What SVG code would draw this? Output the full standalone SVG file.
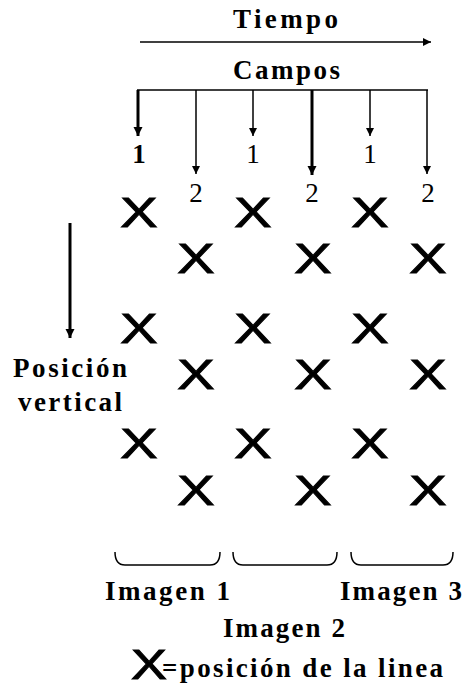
<svg xmlns="http://www.w3.org/2000/svg" width="466" height="688" viewBox="0 0 466 688">
  <defs>
    <marker id="head" viewBox="0 0 10 10" refX="10" refY="5" markerWidth="8" markerHeight="8" markerUnits="userSpaceOnUse" orient="auto">
      <path d="M0,0 L10,5 L0,10 Z" fill="#000"/>
    </marker>
    <marker id="headBig" viewBox="0 0 10 10" refX="10" refY="5" markerWidth="9" markerHeight="10" markerUnits="userSpaceOnUse" orient="auto">
      <path d="M0,0 L10,5 L0,10 Z" fill="#000"/>
    </marker>
  </defs>
  <style>
    .lbl { font-family: "Liberation Serif", "Times New Roman", serif; font-weight: bold; fill: #000; }
    .num { font-family: "Liberation Serif", "Times New Roman", serif; font-size: 27px; fill: #000; text-anchor: middle; }
    .x { font-family: "Liberation Sans", Arial, sans-serif; font-size: 43px; fill: #000; stroke: #000; stroke-width: 1; text-anchor: middle; }
    .thin { stroke: #000; stroke-width: 1.5; fill: none; }
    .thick { stroke: #000; stroke-width: 3; fill: none; }
    .brace { stroke: #000; stroke-width: 1.5; fill: none; }
  </style>

  <rect width="466" height="688" fill="#fff"/>

  <!-- headings -->
  <g id="tiempo">
    <text class="lbl" x="233" y="28" font-size="27" textLength="105" lengthAdjust="spacing">Tiempo</text>
  </g>
  <g id="campos">
    <text class="lbl" x="233" y="79" font-size="27" textLength="107" lengthAdjust="spacing">Campos</text>
  </g>

  <!-- connectors: time axis, field rake, vertical axis -->
  <g id="connectors">
    <line class="thin" x1="140" y1="42" x2="431" y2="42" marker-end="url(#head)"/>
    <line class="thin" x1="137" y1="90" x2="428" y2="90"/>
    <line class="thick" x1="138" y1="90" x2="138" y2="136" marker-end="url(#headBig)"/>
    <line class="thin" x1="196" y1="90" x2="196" y2="174" marker-end="url(#head)"/>
    <line class="thin" x1="253" y1="90" x2="253" y2="136" marker-end="url(#head)"/>
    <line class="thick" x1="312" y1="90" x2="312" y2="175" marker-end="url(#headBig)"/>
    <line class="thin" x1="370" y1="90" x2="370" y2="136" marker-end="url(#head)"/>
    <line class="thin" x1="427" y1="90" x2="427" y2="174" marker-end="url(#head)"/>
    <line class="thick" x1="70" y1="223" x2="70" y2="338" marker-end="url(#headBig)"/>
  </g>

  <!-- field numbers -->
  <g id="field-numbers">
    <text class="num" x="139" y="163" font-weight="bold">1</text>
    <text class="num" x="253" y="163">1</text>
    <text class="num" x="370" y="163">1</text>
    <text class="num" x="196" y="202">2</text>
    <text class="num" x="312" y="202">2</text>
    <text class="num" x="428" y="202">2</text>
  </g>

  <!-- line positions: field 1 columns -->
  <g id="field1-lines">
    <text class="x" transform="translate(139,227) scale(1.3,1)">X</text>
    <text class="x" transform="translate(253,227) scale(1.3,1)">X</text>
    <text class="x" transform="translate(370,227) scale(1.3,1)">X</text>
    <text class="x" transform="translate(139,343) scale(1.3,1)">X</text>
    <text class="x" transform="translate(253,343) scale(1.3,1)">X</text>
    <text class="x" transform="translate(370,343) scale(1.3,1)">X</text>
    <text class="x" transform="translate(139,458) scale(1.3,1)">X</text>
    <text class="x" transform="translate(253,458) scale(1.3,1)">X</text>
    <text class="x" transform="translate(370,458) scale(1.3,1)">X</text>
  </g>

  <!-- line positions: field 2 columns -->
  <g id="field2-lines">
    <text class="x" transform="translate(196,273) scale(1.3,1)">X</text>
    <text class="x" transform="translate(313,273) scale(1.3,1)">X</text>
    <text class="x" transform="translate(428,273) scale(1.3,1)">X</text>
    <text class="x" transform="translate(196,389) scale(1.3,1)">X</text>
    <text class="x" transform="translate(313,389) scale(1.3,1)">X</text>
    <text class="x" transform="translate(428,389) scale(1.3,1)">X</text>
    <text class="x" transform="translate(196,505) scale(1.3,1)">X</text>
    <text class="x" transform="translate(313,505) scale(1.3,1)">X</text>
    <text class="x" transform="translate(428,505) scale(1.3,1)">X</text>
  </g>

  <!-- vertical axis label -->
  <g id="vertical-label">
    <text class="lbl" x="13" y="377" font-size="27" textLength="114" lengthAdjust="spacing">Posición</text>
    <text class="lbl" x="18" y="411" font-size="27" textLength="104" lengthAdjust="spacing">vertical</text>
  </g>

  <!-- frame groupings -->
  <g id="imagen1">
    <path class="brace" d="M115,552 Q115,565 125,565 L210,565 Q220,565 220,552"/>
    <text class="lbl" x="105" y="600" font-size="27" textLength="125" lengthAdjust="spacing">Imagen 1</text>
  </g>
  <g id="imagen2">
    <path class="brace" d="M233,552 Q233,565 243,565 L327,565 Q337,565 337,552"/>
    <text class="lbl" x="223" y="637" font-size="27" textLength="122" lengthAdjust="spacing">Imagen 2</text>
  </g>
  <g id="imagen3">
    <path class="brace" d="M351,552 Q351,565 361,565 L443,565 Q453,565 453,552"/>
    <text class="lbl" x="340" y="600" font-size="27" textLength="122" lengthAdjust="spacing">Imagen 3</text>
  </g>

  <!-- legend -->
  <g id="legend">
    <text class="x" font-size="29" transform="translate(149,679) scale(1.25,1)">X</text>
    <text class="lbl" x="162" y="677" font-size="27" textLength="281" lengthAdjust="spacing">=posición de la linea</text>
  </g>
</svg>
